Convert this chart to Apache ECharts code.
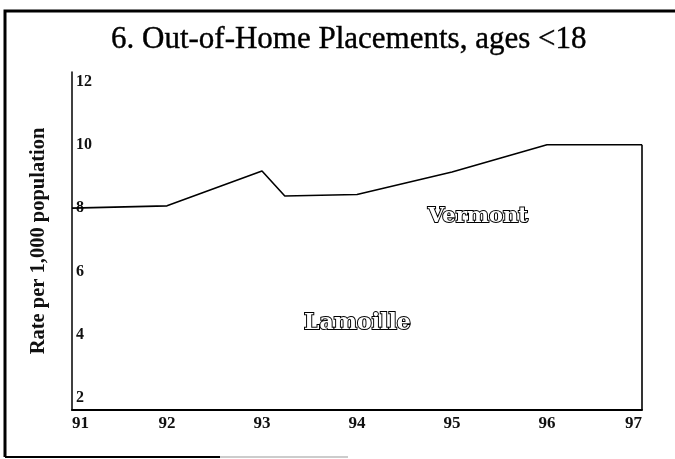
<!DOCTYPE html>
<html>
<head>
<meta charset="utf-8">
<script src="https://cdn.jsdelivr.net/npm/echarts@6/dist/echarts.min.js"></script>
<style>
  html, body { margin: 0; padding: 0; background: #fff; }
  #chart { width: 675px; height: 459px; }
</style>
</head>
<body>
<div id="chart"></div>
<script>
// years on the x axis
const years = [91, 92, 93, 94, 95, 96, 97]
// y tick labels
const yTicks = [2, 4, 6, 8, 10, 12]
// rate per 1,000, the dip comes just after 93
const rateX = [91, 92, 93, 93.24, 94, 95, 96, 97]
const rateY = [8.0, 8.07, 9.17, 8.38, 8.43, 9.14, 10.0, 10.0]
const yMin = 1.62
const yMax = 12.3

const chart = echarts.init(document.getElementById('chart'))

const serif = '"Liberation Serif", "DejaVu Serif", serif'

chart.setOption({
  backgroundColor: '#fff',
  animation: false,
  title: {
    text: '6. Out-of-Home Placements, ages <18',
    left: 106,
    top: 19,
    textStyle: {
      fontFamily: serif,
      fontSize: 31,
      fontWeight: 'normal',
      color: '#000',
      textBorderColor: '#000',
      textBorderWidth: 0.4
    }
  },
  grid: {
    left: 72,
    right: 33,
    top: 72,
    bottom: 49
  },
  xAxis: {
    type: 'value',
    min: 91,
    max: 97,
    interval: 1,
    axisLine: { lineStyle: { color: '#000', width: 2 } },
    axisTick: { show: false },
    splitLine: { show: false },
    axisLabel: {
      margin: 5,
      fontFamily: serif,
      fontSize: 17,
      fontWeight: 'bold',
      color: '#111',
      alignMinLabel: 'left',
      alignMaxLabel: 'right'
    }
  },
  yAxis: {
    type: 'value',
    min: yMin,
    max: yMax,
    name: 'Rate per 1,000 population',
    nameLocation: 'middle',
    nameGap: 23,
    nameTextStyle: {
      fontFamily: serif,
      fontSize: 20.5,
      fontWeight: 'bold',
      color: '#111'
    },
    axisLine: { show: true, lineStyle: { color: '#000', width: 1.5 } },
    axisTick: { show: false },
    splitLine: { show: false },
    axisLabel: {
      inside: true,
      margin: 4,
      customValues: yTicks,
      fontFamily: serif,
      fontSize: 16,
      fontWeight: 'bold',
      color: '#111'
    }
  },
  series: [
    {
      name: 'rate',
      type: 'line',
      symbol: 'none',
      lineStyle: { color: '#000', width: 1.6 },
      data: rateX.map((x, i) => [x, rateY[i]])
    },
    {
      name: 'edge',
      type: 'line',
      symbol: 'none',
      lineStyle: { color: '#000', width: 1.6 },
      data: [[97, rateY[rateY.length - 1]], [97, yMin]]
    }
  ],
  graphic: [
    {
      type: 'polyline',
      shape: { points: [[5, 457], [5, 11], [675, 11]] },
      style: { stroke: '#000', lineWidth: 3, fill: null }
    },
    {
      type: 'line',
      shape: { x1: 5, y1: 457, x2: 220, y2: 457 },
      style: { stroke: '#000', lineWidth: 2 }
    },
    {
      type: 'line',
      shape: { x1: 220, y1: 457, x2: 348, y2: 457 },
      style: { stroke: '#999', lineWidth: 1 }
    },
    {
      type: 'text',
      left: 427,
      top: 205,
      style: {
        text: 'Vermont',
        fontFamily: '"DejaVu Serif", serif',
        fontWeight: 'bold',
        fontSize: 21,
        fill: '#fff',
        stroke: '#000',
        lineWidth: 2
      }
    },
    {
      type: 'text',
      left: 303,
      top: 311,
      style: {
        text: 'Lamoille',
        fontFamily: '"DejaVu Serif", serif',
        fontWeight: 'bold',
        fontSize: 22,
        fill: '#fff',
        stroke: '#000',
        lineWidth: 2
      }
    }
  ]
})
</script>
</body>
</html>
